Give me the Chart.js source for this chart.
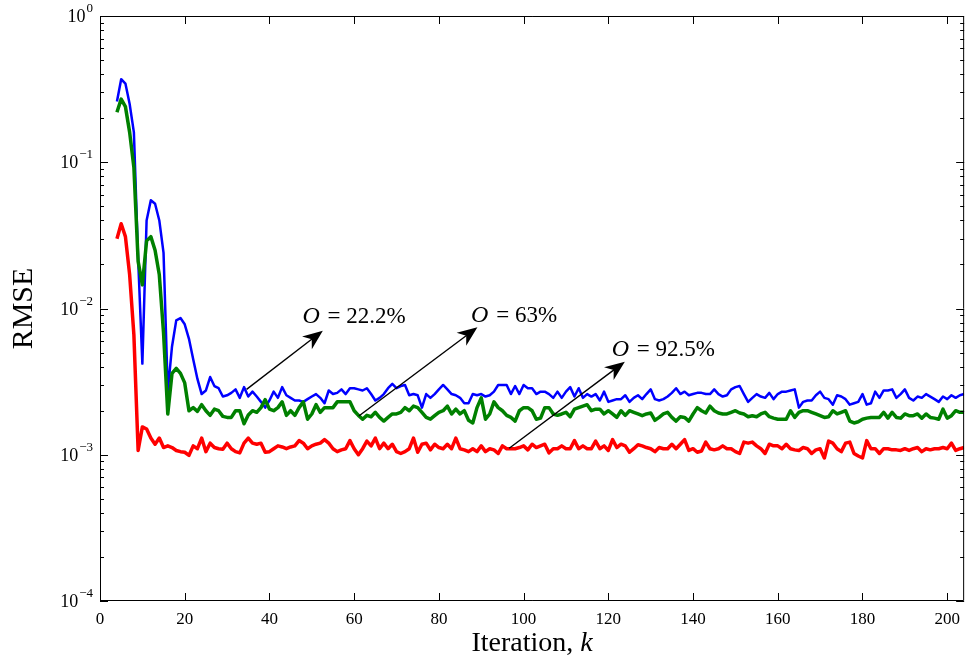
<!DOCTYPE html>
<html>
<head>
<meta charset="utf-8">
<script src="https://cdn.jsdelivr.net/npm/chart.js@4.4.0/dist/chart.umd.min.js"></script>
<style>
  html, body { margin: 0; padding: 0; background: #fff; }
  canvas { display: block; }
</style>
</head>
<body>
<canvas id="rmseChart" width="968" height="661"></canvas>
<script>
/* data */
const firstIteration = 4;
const xTicks = [0, 20, 40, 60, 80, 100, 120, 140, 160, 180, 200];
const yTicks = [1e-4, 1e-3, 1e-2, 1e-1, 1];
const yTickExponents = ['\u22124', '\u22123', '\u22122', '\u22121', '0'];

// blue curve, k = 4 .. 204
const rmseBlue = [
  0.26, 0.37, 0.345, 0.25, 0.16, 0.022, 0.0042, 0.040, 0.055, 0.052,
  0.040, 0.024, 2.7e-3, 5.5e-3, 8.3e-3, 8.6e-3, 7.8e-3, 6.2e-3, 4.5e-3, 3.3e-3,
  2.6e-3, 2.75e-3, 3.4e-3, 2.95e-3, 2.85e-3, 2.5e-3, 2.55e-3, 2.65e-3, 2.8e-3, 2.45e-3,
  2.9e-3, 2.5e-3, 2.7e-3, 2.5e-3, 2.3e-3, 2.1e-3, 2.35e-3, 2.7e-3, 2.45e-3, 2.9e-3,
  2.55e-3, 2.45e-3, 2.35e-3, 2.35e-3, 2.3e-3, 2.4e-3, 2.5e-3, 2.6e-3, 2.45e-3, 2.25e-3,
  2.75e-3, 2.6e-3, 2.65e-3, 2.8e-3, 2.6e-3, 2.85e-3, 2.85e-3, 2.8e-3, 2.75e-3, 2.85e-3,
  2.6e-3, 2.35e-3, 2.45e-3, 2.6e-3, 2.85e-3, 3.05e-3, 2.85e-3, 2.95e-3, 3.0e-3, 2.55e-3,
  2.6e-3, 2.55e-3, 2.1e-3, 2.6e-3, 2.45e-3, 2.6e-3, 2.8e-3, 3.0e-3, 2.8e-3, 2.6e-3,
  2.55e-3, 2.45e-3, 2.25e-3, 2.25e-3, 2.6e-3, 2.55e-3, 2.6e-3, 2.5e-3, 2.55e-3, 2.7e-3,
  3.0e-3, 3.0e-3, 3.0e-3, 2.6e-3, 2.95e-3, 2.6e-3, 3.0e-3, 2.85e-3, 2.85e-3, 2.6e-3,
  2.7e-3, 2.7e-3, 2.6e-3, 2.45e-3, 2.7e-3, 2.45e-3, 2.7e-3, 2.9e-3, 2.5e-3, 2.85e-3,
  2.45e-3, 2.6e-3, 2.5e-3, 2.6e-3, 2.35e-3, 2.7e-3, 2.3e-3, 2.35e-3, 2.4e-3, 2.4e-3,
  2.55e-3, 2.3e-3, 2.45e-3, 2.55e-3, 2.4e-3, 2.6e-3, 2.8e-3, 2.4e-3, 2.35e-3, 2.4e-3,
  2.5e-3, 2.65e-3, 2.85e-3, 2.6e-3, 2.7e-3, 2.55e-3, 2.6e-3, 2.65e-3, 2.65e-3, 2.6e-3,
  2.6e-3, 2.8e-3, 2.6e-3, 2.5e-3, 2.55e-3, 2.8e-3, 2.9e-3, 2.95e-3, 2.6e-3, 2.3e-3,
  2.45e-3, 2.6e-3, 2.5e-3, 2.45e-3, 2.65e-3, 2.4e-3, 2.6e-3, 2.7e-3, 2.7e-3, 2.75e-3,
  2.8e-3, 2.1e-3, 2.3e-3, 2.35e-3, 2.35e-3, 2.55e-3, 2.7e-3, 2.45e-3, 2.4e-3, 2.2e-3,
  2.55e-3, 2.5e-3, 2.4e-3, 2.2e-3, 2.25e-3, 2.3e-3, 2.6e-3, 2.2e-3, 2.25e-3, 2.7e-3,
  2.45e-3, 2.75e-3, 2.75e-3, 2.8e-3, 2.45e-3, 2.6e-3, 2.8e-3, 2.45e-3, 2.35e-3, 2.5e-3,
  2.45e-3, 2.6e-3, 2.5e-3, 2.4e-3, 2.3e-3, 2.5e-3, 2.4e-3, 2.55e-3, 2.45e-3, 2.55e-3,
  2.6e-3
];

// green curve, k = 4 .. 204
const rmseGreen = [
  0.22, 0.27, 0.24, 0.16, 0.092, 0.021, 0.0145, 0.029, 0.031, 0.025,
  0.017, 0.0068, 1.9e-3, 3.6e-3, 3.9e-3, 3.6e-3, 3.1e-3, 2.0e-3, 2.1e-3, 1.98e-3,
  2.2e-3, 2.0e-3, 1.86e-3, 2.05e-3, 2.0e-3, 1.83e-3, 1.8e-3, 1.8e-3, 2.0e-3, 2.0e-3,
  1.63e-3, 1.87e-3, 2.0e-3, 1.95e-3, 2.1e-3, 2.38e-3, 2.05e-3, 2.0e-3, 2.1e-3, 2.3e-3,
  1.86e-3, 2.0e-3, 1.86e-3, 2.1e-3, 2.3e-3, 1.75e-3, 1.9e-3, 2.2e-3, 1.95e-3, 2.1e-3,
  2.1e-3, 2.1e-3, 2.3e-3, 2.3e-3, 2.3e-3, 2.3e-3, 2.0e-3, 1.86e-3, 1.75e-3, 1.86e-3,
  1.82e-3, 1.95e-3, 1.8e-3, 1.7e-3, 1.8e-3, 1.9e-3, 1.9e-3, 1.95e-3, 2.1e-3, 2.0e-3,
  2.15e-3, 2.1e-3, 1.95e-3, 1.8e-3, 1.75e-3, 1.85e-3, 1.95e-3, 2.0e-3, 2.15e-3, 1.9e-3,
  2.05e-3, 1.9e-3, 2.0e-3, 1.72e-3, 1.65e-3, 2.1e-3, 2.45e-3, 1.75e-3, 1.9e-3, 2.3e-3,
  2.1e-3, 2.0e-3, 1.86e-3, 1.8e-3, 1.7e-3, 2.0e-3, 2.1e-3, 2.1e-3, 2.0e-3, 1.75e-3,
  1.78e-3, 2.1e-3, 2.1e-3, 1.9e-3, 1.86e-3, 1.9e-3, 1.95e-3, 1.82e-3, 2.05e-3, 2.1e-3,
  2.15e-3, 2.2e-3, 2.0e-3, 2.05e-3, 2.05e-3, 1.9e-3, 2.0e-3, 1.9e-3, 1.8e-3, 2.0e-3,
  1.86e-3, 2.0e-3, 1.95e-3, 1.9e-3, 1.85e-3, 1.9e-3, 1.93e-3, 1.72e-3, 1.8e-3, 1.9e-3,
  1.95e-3, 1.8e-3, 1.7e-3, 1.82e-3, 1.8e-3, 1.7e-3, 1.9e-3, 2.1e-3, 2.0e-3, 1.93e-3,
  2.15e-3, 2.0e-3, 1.93e-3, 1.9e-3, 1.9e-3, 1.95e-3, 2.0e-3, 1.93e-3, 1.9e-3, 1.82e-3,
  1.85e-3, 1.82e-3, 1.9e-3, 1.95e-3, 1.82e-3, 1.78e-3, 1.75e-3, 1.75e-3, 1.75e-3, 2.0e-3,
  1.8e-3, 1.95e-3, 2.0e-3, 2.0e-3, 1.95e-3, 1.9e-3, 1.85e-3, 1.8e-3, 1.82e-3, 2.0e-3,
  1.9e-3, 1.95e-3, 2.0e-3, 1.7e-3, 1.65e-3, 1.68e-3, 1.75e-3, 1.78e-3, 1.8e-3, 1.8e-3,
  1.8e-3, 1.95e-3, 1.78e-3, 1.95e-3, 1.8e-3, 1.78e-3, 1.9e-3, 1.85e-3, 1.85e-3, 1.9e-3,
  1.78e-3, 1.9e-3, 1.8e-3, 1.78e-3, 1.75e-3, 2.05e-3, 1.78e-3, 1.85e-3, 2.0e-3, 1.95e-3,
  1.95e-3
];

// red curve, k = 4 .. 204
const rmseRed = [
  0.030, 0.038, 0.031, 0.017, 0.0066, 1.07e-3, 1.55e-3, 1.5e-3, 1.3e-3, 1.18e-3,
  1.3e-3, 1.12e-3, 1.15e-3, 1.12e-3, 1.07e-3, 1.05e-3, 1.04e-3, 0.99e-3, 1.15e-3, 1.1e-3,
  1.3e-3, 1.05e-3, 1.2e-3, 1.12e-3, 1.1e-3, 1.09e-3, 1.2e-3, 1.1e-3, 1.05e-3, 1.03e-3,
  1.2e-3, 1.3e-3, 1.2e-3, 1.18e-3, 1.2e-3, 1.04e-3, 1.05e-3, 1.1e-3, 1.15e-3, 1.13e-3,
  1.1e-3, 1.13e-3, 1.15e-3, 1.25e-3, 1.2e-3, 1.1e-3, 1.15e-3, 1.18e-3, 1.2e-3, 1.27e-3,
  1.2e-3, 1.1e-3, 1.05e-3, 1.08e-3, 1.1e-3, 1.25e-3, 1.1e-3, 1.0e-3, 1.1e-3, 1.24e-3,
  1.15e-3, 1.3e-3, 1.1e-3, 1.2e-3, 1.1e-3, 1.18e-3, 1.05e-3, 1.02e-3, 1.05e-3, 1.1e-3,
  1.3e-3, 1.04e-3, 1.18e-3, 1.2e-3, 1.08e-3, 1.18e-3, 1.12e-3, 1.1e-3, 1.18e-3, 1.1e-3,
  1.3e-3, 1.1e-3, 1.08e-3, 1.05e-3, 1.1e-3, 1.05e-3, 1.15e-3, 1.05e-3, 1.1e-3, 1.08e-3,
  1.02e-3, 1.15e-3, 1.1e-3, 1.1e-3, 1.1e-3, 1.12e-3, 1.15e-3, 1.08e-3, 1.18e-3, 1.12e-3,
  1.15e-3, 1.18e-3, 1.03e-3, 1.1e-3, 1.1e-3, 1.15e-3, 1.1e-3, 1.1e-3, 1.25e-3, 1.1e-3,
  1.15e-3, 1.1e-3, 1.1e-3, 1.24e-3, 1.1e-3, 1.15e-3, 1.07e-3, 1.27e-3, 1.12e-3, 1.18e-3,
  1.15e-3, 1.04e-3, 1.1e-3, 1.17e-3, 1.15e-3, 1.12e-3, 1.1e-3, 1.05e-3, 1.12e-3, 1.1e-3,
  1.1e-3, 1.18e-3, 1.1e-3, 1.18e-3, 1.27e-3, 1.07e-3, 1.1e-3, 1.04e-3, 1.06e-3, 1.22e-3,
  1.1e-3, 1.08e-3, 1.1e-3, 1.15e-3, 1.1e-3, 1.1e-3, 1.05e-3, 1.02e-3, 1.22e-3, 1.2e-3,
  1.22e-3, 1.15e-3, 1.1e-3, 1.02e-3, 1.18e-3, 1.15e-3, 1.15e-3, 1.1e-3, 1.18e-3, 1.1e-3,
  1.08e-3, 1.07e-3, 1.12e-3, 1.1e-3, 1.02e-3, 1.08e-3, 1.1e-3, 0.95e-3, 1.24e-3, 1.2e-3,
  1.1e-3, 1.05e-3, 1.2e-3, 1.22e-3, 1.02e-3, 0.98e-3, 0.95e-3, 1.25e-3, 1.1e-3, 1.1e-3,
  1.02e-3, 1.1e-3, 1.1e-3, 1.08e-3, 1.08e-3, 1.07e-3, 1.1e-3, 1.07e-3, 1.1e-3, 1.12e-3,
  1.05e-3, 1.1e-3, 1.08e-3, 1.1e-3, 1.1e-3, 1.12e-3, 1.1e-3, 1.2e-3, 1.07e-3, 1.1e-3,
  1.12e-3
];

// arrows with labels (data coordinates: iteration, RMSE)
const notes = [
  { label: '22.2%', from: [34.6, 2.8e-3], to: [52.6, 7.05e-3], at: [47.8, 8.75e-3] },
  { label: '63%', from: [61.1, 1.84e-3], to: [89.1, 7.44e-3], at: [87.6, 8.9e-3] },
  { label: '92.5%', from: [96.6, 1.107e-3], to: [123.9, 4.33e-3], at: [120.8, 5.2e-3] }
];

const serif = "'Liberation Serif', 'Times New Roman', serif";

function toPoints(arr) {
  return arr.map((v, i) => ({ x: firstIteration + i, y: v }));
}

/* frame, inward ticks, y labels, titles and arrows */
const matlabLook = {
  id: 'matlabLook',
  afterDatasetsDraw(chart) {
    const ctx = chart.ctx;
    const a = chart.chartArea;
    const xs = chart.scales.x, ys = chart.scales.y;
    ctx.save();
    ctx.strokeStyle = '#000';
    ctx.fillStyle = '#000';
    ctx.lineWidth = 1;
    ctx.beginPath();
    ctx.rect(a.left + 0.5, a.top + 0.5, a.right - a.left - 1, a.bottom - a.top - 1);
    ctx.stroke();

    ctx.beginPath();
    xTicks.forEach(v => {
      const px = Math.round(xs.getPixelForValue(v)) + 0.5;
      ctx.moveTo(px, a.bottom); ctx.lineTo(px, a.bottom - 8);
      ctx.moveTo(px, a.top); ctx.lineTo(px, a.top + 8);
    });
    for (let d = 0; d < yTicks.length; d++) {
      const dec = yTicks[d];
      const py = Math.round(ys.getPixelForValue(dec)) + 0.5;
      ctx.moveTo(a.left, py); ctx.lineTo(a.left + 8, py);
      ctx.moveTo(a.right, py); ctx.lineTo(a.right - 8, py);
      if (d < yTicks.length - 1) {
        for (let m = 2; m <= 9; m++) {
          const pm = Math.round(ys.getPixelForValue(dec * m)) + 0.5;
          ctx.moveTo(a.left, pm); ctx.lineTo(a.left + 4, pm);
          ctx.moveTo(a.right, pm); ctx.lineTo(a.right - 4, pm);
        }
      }
    }
    ctx.stroke();

    // y tick labels: 10 with raised exponent
    ctx.textBaseline = 'alphabetic';
    ctx.textAlign = 'left';
    yTicks.forEach((v, i) => {
      const py = ys.getPixelForValue(v);
      ctx.font = '13px ' + serif;
      const we = ctx.measureText(yTickExponents[i]).width;
      ctx.font = '18px ' + serif;
      const wb = ctx.measureText('10').width;
      const right = a.left - 7;
      const x0 = right - we - wb - 1;
      ctx.fillText('10', x0, py + 6);
      ctx.font = '13px ' + serif;
      ctx.fillText(yTickExponents[i], x0 + wb + 1, py - 4);
    });

    // arrows
    notes.forEach(n => {
      const x0 = xs.getPixelForValue(n.from[0]), y0 = ys.getPixelForValue(n.from[1]);
      const x1 = xs.getPixelForValue(n.to[0]), y1 = ys.getPixelForValue(n.to[1]);
      const len = Math.hypot(x1 - x0, y1 - y0);
      const ux = (x1 - x0) / len, uy = (y1 - y0) / len;
      const nx = -uy, ny = ux;
      ctx.lineWidth = 1.4;
      ctx.beginPath();
      ctx.moveTo(x0, y0);
      ctx.lineTo(x1 - ux * 12, y1 - uy * 12);
      ctx.stroke();
      ctx.beginPath();
      ctx.moveTo(x1, y1);
      ctx.lineTo(x1 - ux * 20 + nx * 8, y1 - uy * 20 + ny * 8);
      ctx.lineTo(x1 - ux * 14, y1 - uy * 14);
      ctx.lineTo(x1 - ux * 20 - nx * 8, y1 - uy * 20 - ny * 8);
      ctx.closePath();
      ctx.fill();

      const tx = xs.getPixelForValue(n.at[0]), ty = ys.getPixelForValue(n.at[1]);
      ctx.textBaseline = 'middle';
      ctx.textAlign = 'left';
      ctx.font = 'italic 24px ' + serif;
      ctx.fillText('O', tx, ty);
      const w = ctx.measureText('O').width;
      ctx.font = '23px ' + serif;
      ctx.fillText(' = ' + n.label, tx + w + 2, ty);
    });

    // axis titles
    ctx.textBaseline = 'alphabetic';
    ctx.font = '28px ' + serif;
    const t1 = 'Iteration, ';
    const w1 = ctx.measureText(t1).width;
    ctx.font = 'italic 28px ' + serif;
    const w2 = ctx.measureText('k').width;
    const cx = (a.left + a.right) / 2;
    const sx = cx - (w1 + w2) / 2;
    ctx.font = '28px ' + serif;
    ctx.textAlign = 'left';
    ctx.fillText(t1, sx, 651);
    ctx.font = 'italic 28px ' + serif;
    ctx.fillText('k', sx + w1, 651);

    ctx.translate(32, (a.top + a.bottom) / 2);
    ctx.rotate(-Math.PI / 2);
    ctx.textAlign = 'center';
    ctx.font = '30px ' + serif;
    ctx.fillText('RMSE', 0, 0);
    ctx.restore();
  }
};

const ctx = document.getElementById('rmseChart').getContext('2d');
const rmseChart = new Chart(ctx, {
  type: 'line',
  data: {
    datasets: [
      { label: 'red', data: toPoints(rmseRed), borderColor: '#ff0000', borderWidth: 3.5 },
      { label: 'green', data: toPoints(rmseGreen), borderColor: '#008000', borderWidth: 3.5 },
      { label: 'blue', data: toPoints(rmseBlue), borderColor: '#0000ff', borderWidth: 2.5 }
    ]
  },
  options: {
    responsive: false,
    animation: false,
    devicePixelRatio: 1,
    layout: { padding: { top: 16, right: 2, left: 0, bottom: 0 } },
    plugins: { legend: { display: false }, tooltip: { enabled: false } },
    elements: {
      point: { radius: 0 },
      line: { tension: 0, fill: false, borderJoinStyle: 'round' }
    },
    scales: {
      x: {
        type: 'linear',
        min: 0,
        max: 204,
        afterBuildTicks: s => { s.ticks = xTicks.map(v => ({ value: v })); },
        afterFit: s => { s.height = 60; },
        grid: { display: false, drawTicks: false },
        border: { display: false },
        ticks: {
          padding: 8,
          color: '#000',
          autoSkip: false,
          maxRotation: 0,
          font: { family: serif, size: 17 }
        }
      },
      y: {
        type: 'logarithmic',
        min: 1e-4,
        max: 1,
        afterBuildTicks: s => { s.ticks = yTicks.map(v => ({ value: v })); },
        afterFit: s => { s.width = 100; },
        grid: { display: false, drawTicks: false },
        border: { display: false },
        ticks: { display: false }
      }
    }
  },
  plugins: [matlabLook]
});
</script>
</body>
</html>
